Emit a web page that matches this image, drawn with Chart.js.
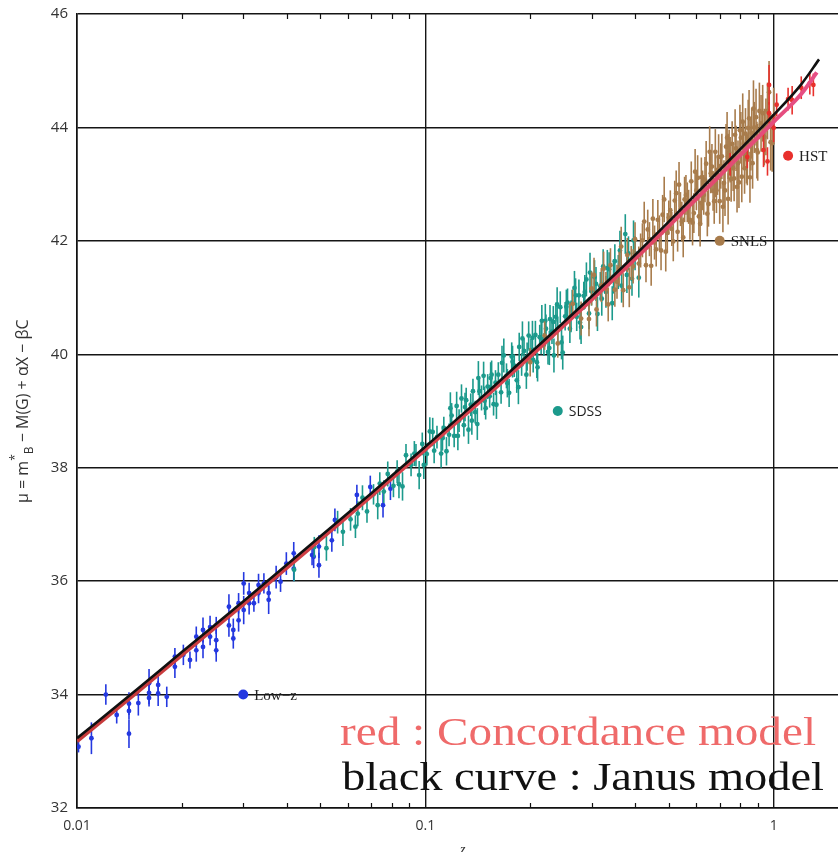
<!DOCTYPE html>
<html>
<head>
<meta charset="utf-8">
<title>Hubble diagram</title>
<script src="https://cdn.jsdelivr.net/npm/chart.js@4.4.1/dist/chart.umd.min.js"></script>
<style>
  body { margin: 0; background: #fff; }
  canvas { display: block; }
</style>
</head>
<body>
<canvas id="hubble" width="838" height="852"></canvas>
<script>
/* ---- data ---- */
const xTickValues = [0.01, 0.1, 1];
const xTickLabels = ['0.01', '0.1', '1'];
const xMinorTicks = [0.02, 0.03, 0.04, 0.05, 0.06, 0.07, 0.08, 0.09, 0.2, 0.3, 0.4, 0.5, 0.6, 0.7, 0.8, 0.9];
const yTickValues = [32, 34, 36, 38, 40, 42, 44, 46];

// red : concordance model
const concZ = [0.01, 0.015, 0.02, 0.03, 0.05, 0.07, 0.1, 0.15, 0.2, 0.3, 0.4, 0.5, 0.7, 1.0, 1.2, 1.33];
const concMu = [33.18, 34.06, 34.70, 35.59, 36.74, 37.50, 38.32, 39.27, 39.96, 40.96, 41.68, 42.26, 43.15, 44.10, 44.59, 44.97];

// black : Janus model
const janusZ = [0.01, 0.015, 0.02, 0.03, 0.05, 0.07, 0.1, 0.15, 0.2, 0.3, 0.4, 0.5, 0.7, 1.0, 1.2, 1.35];
const janusMu = [33.23, 34.11, 34.75, 35.64, 36.79, 37.55, 38.37, 39.32, 40.02, 41.02, 41.75, 42.34, 43.25, 44.22, 44.76, 45.2];

// Low-z
const lowzZ = [0.0101,0.0110,0.0121,0.0130,0.0141,0.0141,0.0141,0.0150,0.0161,0.0161,0.0161,0.0171,0.0171,0.0181,0.0191,0.0191,0.0202,0.0211,0.0220,0.0220,
  0.0230,0.0230,0.0241,0.0241,0.0251,0.0251,0.0251,0.0273,0.0273,0.0281,0.0281,0.0291,0.0291,0.0301,0.0301,0.0312,0.0312,0.0322,0.0332,0.0332,
  0.0344,0.0355,0.0355,0.0373,0.0384,0.0399,0.0419,0.0419,0.0473,0.0478,0.0495,0.0495,0.0539,0.055,0.0636,0.0695,0.0756,0.0794];
const lowzMu = [33.08,33.23,34.0,33.64,33.84,33.71,33.31,33.85,34.03,33.94,34.2,34.17,34.02,33.96,34.49,34.67,34.70,34.61,34.78,35.02,
  34.84,35.14,35.02,35.19,34.96,34.78,35.22,35.22,35.55,34.99,35.14,35.31,35.61,35.49,35.96,35.61,35.79,35.61,35.79,35.93,
  35.96,35.79,35.67,36.07,35.99,36.31,36.22,36.49,36.46,36.43,36.61,36.28,36.72,37.08,37.52,37.66,37.34,37.63];
const lowzErr = [0.1,0.28,0.18,0.15,0.2,0.15,0.25,0.22,0.2,0.15,0.25,0.2,0.22,0.18,0.2,0.15,0.18,0.15,0.2,0.18,
  0.2,0.22,0.15,0.2,0.25,0.2,0.15,0.2,0.22,0.18,0.2,0.2,0.18,0.25,0.2,0.2,0.18,0.15,0.18,0.2,
  0.18,0.15,0.25,0.2,0.18,0.2,0.22,0.2,0.18,0.2,0.2,0.22,0.2,0.2,0.18,0.2,0.22,0.2];

// SDSS
const sdssZ = [0.042,0.048,0.052,0.056,0.058,0.061,0.063,0.066,0.068,0.071,0.073,0.076,0.078,0.081,0.083,0.086,0.088,0.091,0.093,0.096,0.098,0.101,0.103,0.106,0.108,
  0.111,0.113,0.115,0.117,0.119,0.121,0.123,0.125,0.127,0.129,0.131,0.133,0.135,0.137,0.139,0.141,0.143,0.145,0.147,0.149,0.151,0.153,0.155,0.157,0.159,
  0.162,0.165,0.168,0.171,0.174,0.177,0.18,0.183,0.186,0.189,0.192,0.195,0.198,0.201,0.204,0.207,0.21,0.213,0.216,0.219,0.222,0.225,0.228,0.231,0.234,0.237,0.24,
  0.244,0.248,0.252,0.256,0.26,0.264,0.268,0.272,0.276,0.28,0.285,0.29,0.295,0.3,0.306,0.312,0.318,0.324,0.33,0.337,0.344,0.35,0.358,0.366,0.375,0.383,0.392,0.4,0.41,
  0.064,0.074,0.084,0.094,0.099,0.105,0.112,0.118,0.124,0.13,0.136,0.142,0.148,0.154,0.16,0.166,0.172,0.178,0.185,0.19,0.196,
  0.203,0.209,0.215,0.221,0.227,0.233,0.239,0.246,0.254,0.262,0.27,0.278,0.287,0.297,0.309,0.321,0.333,0.347,0.362,0.379,0.396];
const sdssMu = [36.20,36.60,36.58,37.04,36.87,37.09,36.96,37.47,37.23,37.53,37.34,37.58,37.89,37.68,37.93,37.67,38.22,38.05,38.25,37.87,38.42,38.24,38.64,38.30,38.54,
  38.25,38.70,38.29,38.58,38.92,38.56,39.09,38.83,39.22,38.75,39.19,38.67,39.11,39.35,38.98,38.77,39.35,39.23,39.62,39.05,39.43,39.26,39.64,39.12,39.50,
  39.64,39.33,39.98,39.62,39.32,39.96,39.80,39.54,40.13,39.82,40.06,39.64,40.33,40.07,39.90,40.34,39.77,40.30,40.59,40.17,40.45,40.04,40.62,40.40,39.98,40.66,40.44,
  40.83,40.03,40.67,40.91,40.45,40.89,41.17,40.66,41.04,40.48,41.03,41.32,40.72,41.11,41.36,40.71,41.20,41.55,41.10,41.50,40.90,41.64,41.45,41.21,42.12,41.78,41.33,41.78,41.35,
  37.19,37.72,37.71,38.22,38.05,38.63,38.52,39.05,38.56,39.07,38.83,39.58,39.18,39.58,39.11,39.85,39.49,39.87,39.42,40.28,39.96,
  40.29,39.86,40.28,40.59,40.11,40.57,40.88,40.21,40.84,40.67,41.04,40.56,41.10,41.44,41.24,40.98,41.52,41.37,41.83,41.40,42.01];
const sdssErr = [.2,.18,.22,.2,.25,.2,.2,.22,.2,.18,.25,.2,.22,.2,.2,.25,.2,.2,.22,.25,.2,.2,.25,.22,.2,
  .25,.2,.25,.2,.22,.2,.25,.2,.25,.2,.22,.25,.2,.22,.2,.28,.2,.22,.25,.2,.22,.2,.25,.2,.22,
  .22,.2,.3,.22,.25,.25,.2,.22,.25,.2,.22,.25,.25,.2,.22,.25,.25,.22,.28,.2,.25,.22,.25,.22,.3,.25,.22,
  .28,.3,.25,.25,.25,.25,.3,.25,.28,.3,.25,.3,.28,.25,.3,.3,.25,.3,.28,.3,.3,.3,.3,.3,.35,.3,.3,.3,.35,
  .22,.2,.25,.2,.25,.25,.22,.28,.25,.25,.25,.3,.25,.28,.25,.3,.25,.28,.3,.3,.25,
  .3,.28,.28,.3,.3,.28,.3,.3,.3,.28,.3,.3,.3,.35,.3,.3,.32,.3,.35,.32,.35];

// SNLS
const snlsZ = [0.2,0.22,0.24,0.26,0.28,0.3,0.31,0.32,0.33,0.34,0.35,0.36,0.37,0.38,0.39,0.4,0.41,0.42,0.43,0.44,
  0.45,0.46,0.47,0.48,0.49,0.5,0.51,0.52,0.53,0.54,0.55,0.56,0.57,0.58,0.59,0.6,0.61,0.62,0.63,0.64,
  0.65,0.66,0.67,0.68,0.69,0.7,0.71,0.72,0.73,0.74,0.75,0.76,0.77,0.78,0.79,0.8,0.81,0.82,0.83,0.84,
  0.85,0.86,0.87,0.88,0.89,0.9,0.92,0.94,0.96,0.98,1.0,0.265,0.295,0.325,0.355,0.385,0.415,0.435,0.455,0.475,
  0.505,0.525,0.545,0.565,0.585,0.605,0.625,0.645,0.665,0.685,0.705,0.725,0.745,0.765,0.785,0.805,0.835,0.865,0.91,0.95,
  0.305,0.335,0.365,0.395,0.425,0.445,0.465,0.485,0.495,0.515,0.535,0.555,0.575,0.595,0.615,0.635,0.655,0.675,
  0.695,0.715,0.735,0.755,0.775,0.795,0.815,0.825,0.845,0.855,0.875,0.895,0.93,0.97,0.99,0.62,0.68,0.74];
const snlsMu = [39.86,40.33,40.19,40.65,40.63,41.16,40.79,41.22,41.15,41.57,41.14,41.51,41.13,41.75,41.61,42.03,41.60,42.01,41.57,42.03,
  42.39,41.85,42.15,42.46,41.81,42.41,42.21,42.71,42.16,42.56,42.06,42.81,42.60,43.05,42.49,42.89,42.43,43.12,42.81,43.36,
  42.65,43.19,42.88,43.57,43.16,42.70,43.49,43.02,43.66,42.74,43.43,43.71,43.10,43.63,43.37,43.95,43.13,43.71,43.89,43.43,
  44.16,43.69,43.37,44.00,44.18,43.56,44.07,43.83,44.29,43.74,44.20,40.89,40.62,41.51,41.28,41.18,41.83,42.20,41.97,41.83,
  42.54,42.84,42.34,42.68,42.32,43.11,42.89,42.48,43.31,42.89,43.32,42.89,43.56,43.28,42.95,43.82,43.46,43.90,44.29,44.01,
  41.40,40.88,41.90,41.55,42.34,41.56,42.37,42.73,42.14,41.99,42.99,42.73,42.37,43.22,42.30,43.08,43.57,42.70,
  43.48,42.60,43.82,43.09,43.87,43.03,44.10,43.28,43.99,43.12,44.33,43.60,44.25,44.62,43.72,42.67,43.17,43.49];
const snlsErr = [.25,.25,.25,.25,.3,.3,.3,.3,.3,.3,.3,.3,.3,.3,.3,.3,.3,.3,.3,.3,
  .35,.3,.3,.35,.35,.3,.3,.35,.35,.3,.35,.35,.3,.35,.35,.35,.35,.35,.35,.4,
  .4,.35,.35,.4,.35,.4,.4,.4,.4,.45,.4,.4,.4,.4,.4,.45,.45,.4,.45,.45,
  .5,.45,.45,.45,.5,.5,.5,.5,.5,.5,.5,.25,.3,.3,.3,.35,.3,.35,.3,.35,
  .35,.4,.35,.35,.4,.4,.35,.4,.4,.4,.4,.45,.4,.4,.45,.45,.45,.45,.5,.5,
  .3,.3,.35,.3,.35,.35,.35,.4,.35,.35,.4,.4,.35,.4,.4,.4,.45,.4,
  .4,.45,.45,.4,.45,.45,.5,.45,.5,.45,.5,.5,.5,.55,.5,.4,.4,.4];

// HST
const hstZ = [0.75, 0.84, 0.935, 0.96, 0.97, 0.97, 1.0, 1.02, 1.1, 1.13, 1.2, 1.27, 1.3];
const hstMu = [43.35, 43.48, 43.6, 43.4, 44.75, 44.25, 43.99, 44.4, 44.5, 44.48, 44.7, 44.78, 44.75];
const hstErr = [0.2, 0.2, 0.3, 0.25, 0.35, 0.2, 0.25, 0.2, 0.2, 0.25, 0.2, 0.2, 0.2];

// sample key markers drawn inside the plot
const keyNames = ['Low\u2212z', 'SDSS', 'SNLS', 'HST'];
const keyZ = [0.03, 0.24, 0.7, 1.1];
const keyMu = [34, 39, 42, 43.5];
const keyColors = ['#2438e0', '#1c9a8c', '#a87c4c', '#e8302c'];

const pts = (zs, mus) => zs.map((z, i) => ({ x: z, y: mus[i] }));

/* ---- plugins ---- */
// vertical error bars, drawn just under each sample's dots
const errorBars = {
    id: 'errorBars',
    beforeDatasetDraw(chart, args) {
        const ds = chart.data.datasets[args.index];
        if (!ds.errors) return;
        const { ctx, chartArea } = chart;
        const xs = chart.scales.x, ys = chart.scales.y;
        ctx.save();
        ctx.beginPath();
        ctx.rect(chartArea.left, chartArea.top, chartArea.right - chartArea.left, chartArea.bottom - chartArea.top);
        ctx.clip();
        ctx.strokeStyle = ds.borderColor;
        ctx.lineWidth = 1.6;
        ds.data.forEach((p, i) => {
            const e = ds.errors[i] || 0.25;
            const px = xs.getPixelForValue(p.x);
            ctx.beginPath();
            ctx.moveTo(px, ys.getPixelForValue(p.y - e));
            ctx.lineTo(px, ys.getPixelForValue(p.y + e));
            ctx.stroke();
        });
        ctx.restore();
    }
};

// inner minor ticks, key labels, axis titles and the two caption lines
const decorations = {
    id: 'decorations',
    afterDraw(chart) {
        const { ctx, chartArea } = chart;
        const xs = chart.scales.x, ys = chart.scales.y;
        ctx.save();

        // minor ticks on bottom and top edges
        ctx.strokeStyle = '#111';
        ctx.lineWidth = 1.2;
        xMinorTicks.forEach(v => {
            const px = Math.round(xs.getPixelForValue(v)) + 0.5;
            ctx.beginPath();
            ctx.moveTo(px, chartArea.bottom);
            ctx.lineTo(px, chartArea.bottom - 5);
            ctx.moveTo(px, chartArea.top);
            ctx.lineTo(px, chartArea.top + 5);
            ctx.stroke();
        });

        // key labels next to the sample dots
        ctx.fillStyle = '#222';
        ctx.textBaseline = 'middle';
        keyNames.forEach((name, i) => {
            ctx.font = name === 'SDSS' ? '14px "Open Sans"' : '15px "Liberation Serif"';
            ctx.fillText(name, xs.getPixelForValue(keyZ[i]) + 11, ys.getPixelForValue(keyMu[i]) + 1);
        });

        // x title (cut by the bottom edge, as in the picture)
        ctx.font = 'italic 14px "Liberation Serif"';
        ctx.textBaseline = 'top';
        ctx.fillStyle = '#333';
        ctx.fillText('z', 460, 843);

        // y title, rotated, with superscript * and subscript B
        ctx.translate(28, 503);
        ctx.rotate(-Math.PI / 2);
        ctx.textBaseline = 'alphabetic';
        ctx.fillStyle = '#333';
        const pieces = [
            ['\u03bc = m', 0, 16],
            ['*', -9, 12],
            ['B', 5, 12],
            [' \u2212 M(G) + \u03b1X \u2212 \u03b2C', 0, 16]
        ];
        let cx = 0;
        pieces.forEach(([txt, dy, size]) => {
            ctx.font = size + 'px "Open Sans"';
            ctx.fillText(txt, cx, dy);
            cx += ctx.measureText(txt).width;
        });
        ctx.restore();

        // caption lines
        const captions = [
            { text: 'red : Concordance model', color: '#ef6a6a', x: 340, y: 745, w: 476 },
            { text: 'black curve : Janus model', color: '#111', x: 342, y: 790, w: 482 }
        ];
        captions.forEach(c => {
            ctx.save();
            ctx.font = '41px "Liberation Serif"';
            const w = ctx.measureText(c.text).width;
            ctx.translate(c.x, c.y);
            ctx.scale(c.w / w, 1);
            ctx.fillStyle = c.color;
            ctx.textBaseline = 'alphabetic';
            ctx.fillText(c.text, 0, 0);
            ctx.restore();
        });
    }
};

/* ---- chart ---- */
Chart.defaults.font.family = '"Open Sans"';
Chart.defaults.color = '#333';

const sample = (label, zs, mus, errs, color, order) => ({
    label,
    data: pts(zs, mus),
    errors: errs,
    borderColor: color,
    backgroundColor: color,
    pointRadius: 2.4,
    pointBorderWidth: 0,
    showLine: false,
    order
});

// concordance curve goes from deep red at low z to pink at high z
const concColor = (context) => {
    const area = context.chart.chartArea;
    if (!area) return '#d8434f';
    const g = context.chart.ctx.createLinearGradient(area.left, 0, area.right, 0);
    g.addColorStop(0, '#c63a3a');
    g.addColorStop(0.6, '#d8434f');
    g.addColorStop(1, '#e8508a');
    return g;
};

new Chart(document.getElementById('hubble'), {
    type: 'scatter',
    data: {
        datasets: [
            {
                label: 'Janus model',
                data: pts(janusZ, janusMu),
                borderColor: '#111',
                borderWidth: 2.6,
                pointRadius: 0,
                showLine: true,
                cubicInterpolationMode: 'monotone',
                order: 0
            },
            {
                label: 'Concordance model',
                data: pts(concZ, concMu),
                borderColor: concColor,
                borderWidth: 4,
                pointRadius: 0,
                showLine: true,
                cubicInterpolationMode: 'monotone',
                order: 1
            },
            {
                label: 'key',
                data: pts(keyZ, keyMu),
                backgroundColor: keyColors,
                borderWidth: 0,
                pointRadius: 5,
                showLine: false,
                order: 2
            },
            sample('HST', hstZ, hstMu, hstErr, '#e8302c', 3),
            sample('SNLS', snlsZ, snlsMu, snlsErr, '#a87c4c', 4),
            sample('SDSS', sdssZ, sdssMu, sdssErr, '#1c9a8c', 5),
            sample('Low-z', lowzZ, lowzMu, lowzErr, '#2438e0', 6)
        ]
    },
    options: {
        responsive: false,
        animation: false,
        events: [],
        layout: { autoPadding: false, padding: { top: 14, right: 0, left: 0, bottom: 0 } },
        plugins: {
            legend: { display: false },
            tooltip: { enabled: false }
        },
        scales: {
            x: {
                type: 'logarithmic',
                min: 0.01,
                max: 1.53,
                afterBuildTicks: (scale) => {
                    scale.ticks = xTickValues.map(v => ({ value: v, major: true }));
                },
                afterFit: (scale) => {
                    scale.height = 44;
                    scale.paddingLeft = 0;
                    scale.paddingRight = 0;
                },
                ticks: {
                    autoSkip: false,
                    maxRotation: 0,
                    padding: 10,
                    font: { size: 14 },
                    callback: (v) => {
                        const i = xTickValues.indexOf(v);
                        return i >= 0 ? xTickLabels[i] : '';
                    }
                },
                grid: {
                    color: '#151515',
                    lineWidth: 1.4,
                    drawTicks: false
                },
                border: { color: '#111', width: 1.6 }
            },
            y: {
                min: 32,
                max: 46,
                afterBuildTicks: (scale) => {
                    scale.ticks = yTickValues.map(v => ({ value: v }));
                },
                afterFit: (scale) => {
                    scale.width = 77;
                    scale.paddingTop = 0;
                    scale.paddingBottom = 0;
                },
                ticks: {
                    padding: 9,
                    font: { size: 15 }
                },
                grid: {
                    color: '#151515',
                    lineWidth: 1.4,
                    drawTicks: false
                },
                border: { color: '#111', width: 1.6 }
            }
        }
    },
    plugins: [errorBars, decorations]
});
</script>
</body>
</html>
